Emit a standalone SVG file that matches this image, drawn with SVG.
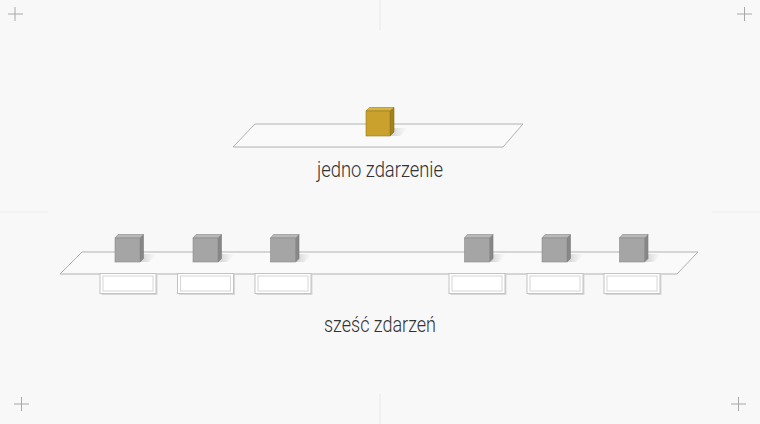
<svg xmlns="http://www.w3.org/2000/svg" width="760" height="424" viewBox="0 0 760 424">
  <defs>
    <linearGradient id="shd" x1="0" y1="0" x2="1" y2="0">
      <stop offset="0" stop-color="#c8c8c8" stop-opacity="0.9"/>
      <stop offset="1" stop-color="#e0e0e0" stop-opacity="0"/>
    </linearGradient>
    <g id="box">
      <rect x="1.5" y="1.5" width="56" height="20" fill="#d9d9d9"/>
      <rect x="0" y="0" width="56" height="20" fill="#ffffff" stroke="#c2c2c2" stroke-width="1"/>
      <rect x="3" y="2.5" width="50" height="15" fill="none" stroke="#d6d6d6" stroke-width="1"/>
    </g>
  </defs>
  <style>
    .bg { fill: #f8f8f8; }
    .guide { stroke: #ebebeb; stroke-width: 1.2; fill: none; }
    .cross { stroke: #a8a8a8; stroke-width: 1; fill: none; }
    .plat { fill: #fafafa; stroke: #a9a9a9; stroke-width: 0.9; }
    .shadow { fill: url(#shd); stroke: none; }
    .g .front { fill: #a5a5a5; stroke: #8a8a8a; stroke-width: 0.6; }
    .g .top { fill: #b8b8b8; stroke: #8a8a8a; stroke-width: 0.6; }
    .g .side { fill: #878787; stroke: #7a7a7a; stroke-width: 0.6; }
    .y .front { fill: #c9a12c; stroke: #9c7c1c; stroke-width: 0.6; }
    .y .top { fill: #d8b444; stroke: #9c7c1c; stroke-width: 0.6; }
    .y .side { fill: #a3811c; stroke: #8c6e16; stroke-width: 0.6; }
    .lbl { font-family: Roboto, "Liberation Sans", sans-serif; font-weight: 300; font-size: 22px; fill: #333333; text-anchor: middle; }
  </style>

  <rect class="bg" x="0" y="0" width="760" height="424"/>

  <g id="guides">
    <line class="guide" x1="380" y1="0" x2="380" y2="30"/>
    <line class="guide" x1="380" y1="394" x2="380" y2="424"/>
    <line class="guide" x1="0" y1="212" x2="48" y2="212"/>
    <line class="guide" x1="712" y1="212" x2="760" y2="212"/>
    <path class="cross" d="M8 14 H23 M15 7 V21"/>
    <path class="cross" d="M737 14 H752 M744.5 7 V21"/>
    <path class="cross" d="M14 404 H29 M21.5 397 V411"/>
    <path class="cross" d="M731 404 H746 M738.5 397 V411"/>
  </g>

  <g id="single-event">
    <polygon class="plat" points="255,124 523,124 503,147 233,147"/>
    <g class="y" transform="translate(366,111)">
      <polygon class="shadow" points="24,25 28,17 42,17 34,25"/>
      <polygon class="side" points="24,0 28,-3.5 28,21 24,25"/>
      <polygon class="top" points="0,0 3.5,-3.5 28,-3.5 24,0"/>
      <rect class="front" x="0" y="0" width="24" height="25"/>
    </g>
    <text class="lbl" x="380" y="177" textLength="126" lengthAdjust="spacingAndGlyphs">jedno zdarzenie</text>
  </g>

  <g id="six-events">
    <polygon class="plat" points="82,252 698,252 677,274 60,274"/>
    <g id="slots">
      <use href="#box" x="100" y="273.5"/>
      <use href="#box" x="177.5" y="273.5"/>
      <use href="#box" x="255" y="273.5"/>
      <use href="#box" x="449" y="273.5"/>
      <use href="#box" x="527" y="273.5"/>
      <use href="#box" x="604" y="273.5"/>
    </g>
    <g id="cube1" class="g" transform="translate(115,238)">
      <polygon class="shadow" points="25,24 29,16 42,16 34,24"/>
      <polygon class="side" points="25,0 28.5,-3.5 28.5,20.5 25,24"/>
      <polygon class="top" points="0,0 3,-3.5 28.5,-3.5 25,0"/>
      <rect class="front" x="0" y="0" width="25" height="24"/>
    </g>
    <g id="cube2" class="g" transform="translate(193,238)">
      <polygon class="shadow" points="25,24 29,16 42,16 34,24"/>
      <polygon class="side" points="25,0 28.5,-3.5 28.5,20.5 25,24"/>
      <polygon class="top" points="0,0 3,-3.5 28.5,-3.5 25,0"/>
      <rect class="front" x="0" y="0" width="25" height="24"/>
    </g>
    <g id="cube3" class="g" transform="translate(270.5,238)">
      <polygon class="shadow" points="25,24 29,16 42,16 34,24"/>
      <polygon class="side" points="25,0 28.5,-3.5 28.5,20.5 25,24"/>
      <polygon class="top" points="0,0 3,-3.5 28.5,-3.5 25,0"/>
      <rect class="front" x="0" y="0" width="25" height="24"/>
    </g>
    <g id="cube4" class="g" transform="translate(464.5,238)">
      <polygon class="shadow" points="25,24 29,16 42,16 34,24"/>
      <polygon class="side" points="25,0 28.5,-3.5 28.5,20.5 25,24"/>
      <polygon class="top" points="0,0 3,-3.5 28.5,-3.5 25,0"/>
      <rect class="front" x="0" y="0" width="25" height="24"/>
    </g>
    <g id="cube5" class="g" transform="translate(542,238)">
      <polygon class="shadow" points="25,24 29,16 42,16 34,24"/>
      <polygon class="side" points="25,0 28.5,-3.5 28.5,20.5 25,24"/>
      <polygon class="top" points="0,0 3,-3.5 28.5,-3.5 25,0"/>
      <rect class="front" x="0" y="0" width="25" height="24"/>
    </g>
    <g id="cube6" class="g" transform="translate(619.5,238)">
      <polygon class="shadow" points="25,24 29,16 42,16 34,24"/>
      <polygon class="side" points="25,0 28.5,-3.5 28.5,20.5 25,24"/>
      <polygon class="top" points="0,0 3,-3.5 28.5,-3.5 25,0"/>
      <rect class="front" x="0" y="0" width="25" height="24"/>
    </g>
    <text class="lbl" x="380" y="332" textLength="112" lengthAdjust="spacingAndGlyphs">sześć zdarzeń</text>
  </g>
</svg>
